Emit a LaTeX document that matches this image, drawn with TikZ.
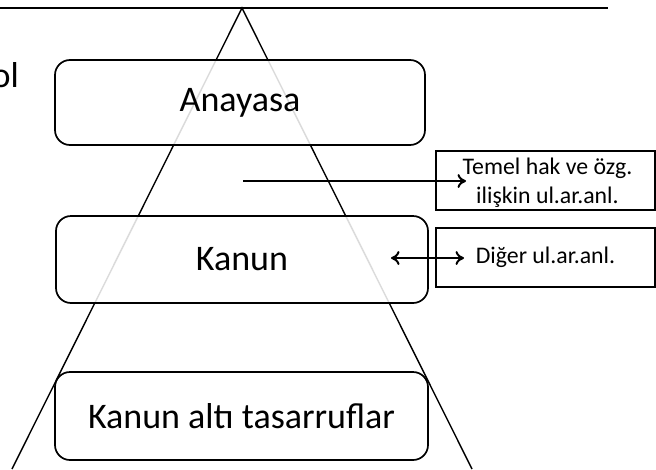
\documentclass[tikz,border=0pt]{standalone}
\usepackage{fontspec}
\setmainfont{Carlito}
\usetikzlibrary{arrows.meta}
\tikzset{
  bigbox/.style={draw=black, line width=1.7pt, rounded corners=15pt, fill=white, fill opacity=0.86, text opacity=1, inner sep=0pt, font=\fontsize{36}{43}\selectfont},
  sidebox/.style={draw=black, line width=1.7pt, fill=white, inner sep=0pt, align=center, font=\fontsize{23.8}{29}\selectfont},
  tri/.style={line width=1.4pt},
  arr/.style={line width=2pt, -{To[length=8.5pt,width=14pt]}},
  darr/.style={line width=2pt, {To[length=8.5pt,width=14pt]}-{To[length=8.5pt,width=14pt]}}
}
\begin{document}
\begin{tikzpicture}[x=1pt,y=-1pt]
\useasboundingbox (0,0) rectangle (656,469);
% top rule
\coordinate (r1) at (0,8);
\coordinate (r2) at (608,8);
\draw[line width=1.8pt] (r1) -- (r2);
% partially visible text
\node[anchor=base east, inner sep=0pt, font=\fontsize{36}{43}\selectfont] (ol) at (19,87) {ol};
% triangle
\coordinate (apex) at (242,8);
\coordinate (bl) at (12,469);
\coordinate (br) at (472,469);
\draw[tri] (bl) -- (apex) -- (br);
% boxes
\node[bigbox, minimum width=370pt, minimum height=85pt] (ana) at (240,102.5) {Anayasa};
\node[bigbox, minimum width=372pt, minimum height=87pt] (kan) at (242,259.5) {Kanun};
\node[bigbox, fill opacity=1, minimum width=373pt, minimum height=88pt] (alt) at (241.5,416) {Kanun alt\i\ tasarruflar};
\node[sidebox, minimum width=219pt, minimum height=59pt] (temel) at (545.5,180.5) {};
\node[align=center, inner sep=0pt, font=\fontsize{23.8}{29}\selectfont] (temeltxt) at (547.5,182.5) {Temel hak ve özg.\\ ilişkin ul.ar.anl.};
\node[sidebox, minimum width=219pt, minimum height=59pt] (diger) at (545.5,257.5) {Diğer ul.ar.anl.};
% arrows
\coordinate (a1) at (243,181);
\coordinate (a2) at (466,181);
\draw[arr] (a1) -- (a2);
\coordinate (b1) at (391,258);
\coordinate (b2) at (464,258);
\draw[darr] (b1) -- (b2);
\end{tikzpicture}
\end{document}
